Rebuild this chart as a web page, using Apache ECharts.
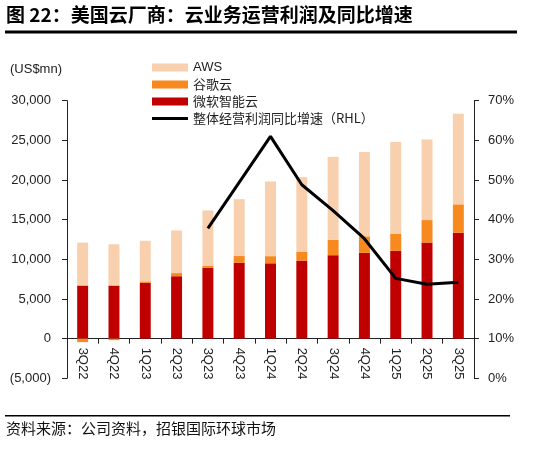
<!DOCTYPE html>
<html>
<head>
<meta charset="utf-8">
<script src="https://cdn.jsdelivr.net/npm/echarts@6/dist/echarts.min.js"></script>
<style>
  html, body { margin: 0; padding: 0; background: #fff; }
  #chart { width: 544px; height: 449px; }
</style>
</head>
<body>
<div id="chart"></div>
<script>
var categories = ['3Q22', '4Q22', '1Q23', '2Q23', '3Q23', '4Q23', '1Q24', '2Q24', '3Q24', '4Q24', '1Q25', '2Q25', '3Q25'];
var msCloud = [6700, 6700, 7030, 7870, 8920, 9550, 9500, 9800, 10520, 10810, 11060, 12120, 13340];
var googleCloud = [-440, -186, 191, 395, 266, 864, 900, 1170, 1950, 2090, 2180, 2830, 3590];
var aws = [5400, 5200, 5120, 5370, 6980, 7170, 9420, 9400, 10450, 10630, 11550, 10160, 11430];
var growth = [null, null, null, null, 37.8, 49.4, 61.0, 48.8, 42.3, 35.2, 25.2, 23.7, 24.2];

var leftTicks = [-5000, 30000, 5000];
var rightTicks = [0, 70, 10];

var font = 'Liberation Sans, Arial, sans-serif';
var cjk = '"Noto Sans CJK SC", sans-serif';

// 千分位，负数加括号
function fmtNum(v) {
  var s = String(Math.abs(v)).replace(/\B(?=(\d{3})+(?!\d))/g, ',');
  return v < 0 ? '(' + s + ')' : s;
}

var myChart = echarts.init(document.getElementById('chart'));

// 0 刻度距离底部的像素
var gridTop = 100.7, gridBottom = 70.7;
var plotH = 449 - gridTop - gridBottom;
var zeroOffset = plotH * (0 - leftTicks[0]) / (leftTicks[1] - leftTicks[0]);

var option = {
  animation: false,
  backgroundColor: '#fff',
  textStyle: { fontFamily: font },
  graphic: [
    { type: 'text', left: 6, top: 5, style: { text: '图 22：美国云厂商：云业务运营利润及同比增速', font: 'bold 19px ' + cjk, fill: '#000' } },
    { type: 'rect', shape: { x: 5, y: 30.5, width: 512, height: 3 }, style: { fill: '#000' } },
    { type: 'text', left: 10, top: 63, style: { text: '(US$mn)', font: '13px ' + font, fill: '#222' } },
    { type: 'rect', shape: { x: 5, y: 415, width: 505, height: 1.5 }, style: { fill: '#000' } },
    { type: 'text', left: 6, top: 421, style: { text: '资料来源：公司资料，招银国际环球市场', font: '15px ' + cjk, fill: '#111' } }
  ],
  legend: {
    orient: 'vertical',
    left: 147,
    top: 56,
    itemWidth: 36,
    itemHeight: 8,
    itemGap: 4,
    textStyle: { fontFamily: cjk, fontSize: 13, color: '#222' },
    data: [
      { name: 'AWS', icon: 'rect', textStyle: { fontFamily: font } },
      { name: '谷歌云', icon: 'rect' },
      { name: '微软智能云', icon: 'rect' },
      { name: '整体经营利润同比增速（RHL）', icon: 'path://M0,0 L36,0 L36,3 L0,3 Z', itemStyle: { color: '#000' } }
    ]
  },
  grid: { left: 67, right: 70, top: gridTop, bottom: gridBottom },
  xAxis: {
    type: 'category',
    data: categories,
    offset: -zeroOffset,
    axisLine: { onZero: false, lineStyle: { color: '#222', width: 1 } },
    axisTick: { show: true, length: 5, lineStyle: { color: '#222' } },
    axisLabel: { rotate: -90, margin: 9, fontSize: 13, color: '#222', fontFamily: font }
  },
  yAxis: [
    {
      type: 'value',
      min: leftTicks[0], max: leftTicks[1], interval: leftTicks[2],
      splitLine: { show: false },
      axisLine: { show: true, onZero: false, lineStyle: { color: '#222' } },
      axisTick: { show: true, length: 5, lineStyle: { color: '#222' } },
      axisLabel: { fontSize: 13, color: '#222', margin: 16, formatter: fmtNum }
    },
    {
      type: 'value',
      min: rightTicks[0], max: rightTicks[1], interval: rightTicks[2],
      splitLine: { show: false },
      axisLine: { show: true, lineStyle: { color: '#222' } },
      axisTick: { show: true, length: 5, lineStyle: { color: '#222' } },
      axisLabel: { fontSize: 13, color: '#222', margin: 14, formatter: '{value}%' }
    }
  ],
  series: [
    { name: '微软智能云', type: 'bar', stack: 'op', data: msCloud, barWidth: '35%', itemStyle: { color: '#C00000' } },
    { name: '谷歌云', type: 'bar', stack: 'op', data: googleCloud, itemStyle: { color: '#F7891F' } },
    { name: 'AWS', type: 'bar', stack: 'op', data: aws, itemStyle: { color: '#F9D0AE' } },
    {
      name: '整体经营利润同比增速（RHL）', type: 'line', yAxisIndex: 1, data: growth,
      symbol: 'none', lineStyle: { color: '#000', width: 3 }, itemStyle: { color: '#000' }
    }
  ]
};
myChart.setOption(option);
</script>
</body>
</html>
